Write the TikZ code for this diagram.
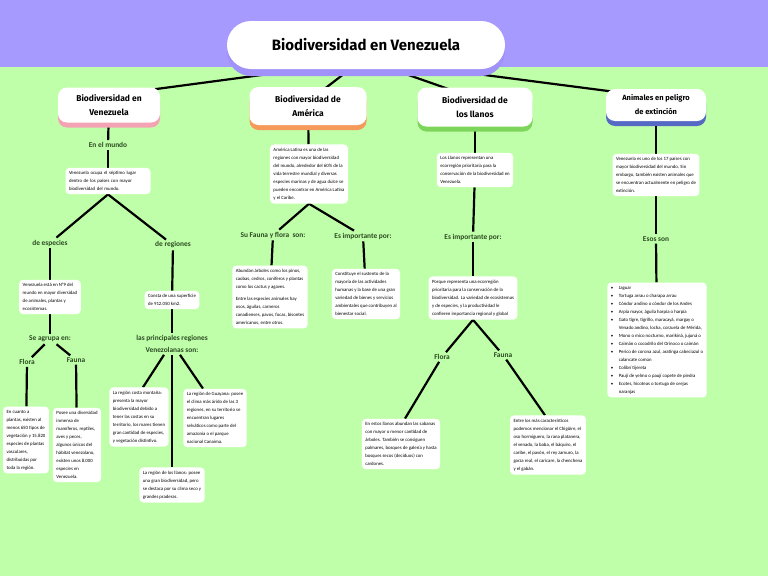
\documentclass[tikz,border=0pt]{standalone}
\usepackage{fontspec}
\setmainfont{Carlito}
\newfontfamily\headfont{Fira Sans}
\usetikzlibrary{shadows}

\definecolor{bgPurple}{HTML}{A69AFF}
\definecolor{bgGreen}{HTML}{BFFFA9}
\definecolor{titleShadow}{HTML}{A192FA}
\definecolor{pinkShadow}{HTML}{F4A3B4}
\definecolor{orangeShadow}{HTML}{F59A5A}
\definecolor{greenShadow}{HTML}{7DD65B}
\definecolor{blueShadow}{HTML}{5468C4}
\definecolor{tagGreen}{HTML}{2B4A22}

\pgfdeclarelayer{paper}
\pgfdeclarelayer{links}
\pgfsetlayers{paper,links,main}

\newcommand{\justline}[1]{\makebox[\hsize][s]{#1}}
\newcommand{\itm}{\makebox[8pt][l]{\textbullet}}
\newcommand{\cont}{\hspace*{8pt}}

\begin{document}
\begin{tikzpicture} [x=1pt,y=-1pt,
	titlebox/.style={shape=rectangle,rounded corners=24pt,fill=white,minimum width=278pt,minimum height=48pt,font=\headfont\bfseries\fontsize{15}{18}\selectfont,general shadow={fill=titleShadow,shadow yshift=-7pt}},
	topic/.style={shape=rectangle,rounded corners=9pt,fill=white,align=center,font=\headfont\bfseries\fontsize{8.5}{14}\selectfont,general shadow={fill=#1,shadow yshift=-5pt}},
	info/.style={shape=rectangle,rounded corners=4pt,fill=white,align=left,inner sep=3.5pt,font=\fontsize{4.8}{8}\selectfont},
	tag/.style={font=\bfseries\fontsize{7.4}{12}\selectfont,text=tagGreen,inner sep=2pt,align=center},
	link/.style={line width=2.2pt}]
	\useasboundingbox (0,0) rectangle (768,576);
	\begin{pgfonlayer}{paper}
		\fill[bgPurple] (0,0) rectangle (768,67);
		\fill[bgGreen] (0,67) rectangle (768,576);
	\end{pgfonlayer}

	% title and the four topics
	\node (title) at (366,45)[titlebox] {Biodiversidad en Venezuela};
	\node (hv) at (109,105)[topic=pinkShadow,minimum width=102pt,minimum height=35pt] {Biodiversidad en\\Venezuela};
	\node (ha) at (308,106)[topic=orangeShadow,minimum width=117pt,minimum height=38pt] {Biodiversidad de\\América};
	\node (hl) at (475,107)[topic=greenShadow,minimum width=115pt,minimum height=39pt] {Biodiversidad de\\los llanos};
	\node (he) at (656,105)[topic=blueShadow,minimum width=100pt,minimum height=32pt,font=\headfont\bfseries\fontsize{7.5}{14}\selectfont] {Animales en peligro\\de extinción};

	% Venezuela
	\node (mundo) at (108,145)[tag] {En el mundo};
	\node (b1) at (108,181)[info,text width=78pt] {\justline{Venezuela ocupa el séptimo lugar}\\\justline{dentro de los países con mayor}\\biodiversidad del mundo.};
	\node (esp) at (50,243)[tag] {de especies};
	\node (reg) at (173,245)[tag] {de regiones};
	\node (b2) at (50,297)[info] {Venezuela está en N°9 del\\mundo en mayor diversidad\\de animales, plantas y\\ecosistemas.};
	\node (agr) at (50,339)[tag] {Se agrupa en:};
	\node (flora1) at (27,362)[tag] {Flora};
	\node (fauna1) at (76,360)[tag] {Fauna};
	\node (b3) at (26,440)[info] {En cuanto a\\plantas, existen al\\menos 650 tipos de\\vegetación y 15.820\\especies de plantas\\vasculares,\\distribuidas por\\toda la región.};
	\node (b4) at (77,445)[info] {Posee una diversidad\\inmensa de\\mamíferos, reptiles,\\aves y peces,\\algunos únicos del\\hábitat venezolano,\\existen unos 8.000\\especies en\\Venezuela.};
	\node (b5) at (172,300)[info] {Consta de una superficie\\de 912.050 km2.};
	\node (prin) at (172,344)[tag] {las principales regiones\\Venezolanas son:};
	\node (b6) at (139,417)[info] {La región costa montaña:\\presenta la mayor\\biodiversidad debido a\\tener las costas en su\\territorio, los mares tienen\\gran cantidad de especies,\\y vegetación distintivo.};
	\node (b7) at (215,418)[info] {La región de Guayana: posee\\el clima más árido de las 3\\regiones, en su territorio se\\encuentran lugares\\selváticos como parte del\\amazonia o el parque\\nacional Canaima.};
	\node (b8) at (172,485)[info] {La región de los llanos: posee\\una gran biodiversidad, pero\\se destaca por su clima seco y\\grandes praderas.};

	% America
	\node (b9) at (309,174)[info] {América Latina es una de las\\regiones con mayor biodiversidad\\del mundo, alrededor del 60\% de la\\vida terrestre mundial y diversas\\especies marinas y de agua dulce se\\pueden encontrar en América Latina\\y el Caribe.};
	\node (fy) at (273,235)[tag] {Su Fauna y flora\ \ son:};
	\node (imp1) at (363,236)[tag] {Es importante por:};
	\node (b10) at (270,297)[info] {Abundan árboles como los pinos,\\caobas, cedros, coníferos y plantas\\como los cactus y agaves.\\[4pt]Entre las especies animales hay\\osos, águilas, carneros\\canadienses, pavos, focas, bisontes\\americanos, entre otros.};
	\node (b11) at (366,294)[info] {Constituye el sustento de la\\mayoría de las actividades\\humanas y la base de una gran\\variedad de bienes y servicios\\ambientales que contribuyen al\\bienestar social.};

	% llanos
	\node (b12) at (475,170)[info] {Los Llanos representan una\\ecorregión prioritaria para la\\conservación de la biodiversidad en\\Venezuela.};
	\node (imp2) at (473,237)[tag] {Es importante por:};
	\node (b13) at (473,298)[info] {Porque representa una ecorregión\\prioritaria para la conservación de la\\biodiversidad. La variedad de ecosistemas\\y de especies, y la productividad le\\confieren importancia regional y global};
	\node (flora2) at (442,357)[tag] {Flora};
	\node (fauna2) at (503,355)[tag] {Fauna};
	\node (b14) at (401,444)[info] {En estos llanos abundan las sabanas\\con mayor o menor cantidad de\\árboles. También se consiguen\\palmares, bosques de galería y hasta\\bosques secos (deciduos) con\\cardones.};
	\node (b15) at (548,445)[info] {Entre los más característicos\\podemos mencionar el Chigüire, el\\oso hormiguero, la rana platanera,\\el venado, la baba, el báquiro, el\\caribe, el pavón, el rey zamuro, la\\garza real, el caricare, la chenchena\\y el gabán.};

	% animales
	\node (b16) at (656,175)[info] {Venezuela es uno de los 17 países con\\mayor biodiversidad del mundo. Sin\\embargo, también existen animales que\\se encuentran actualmente en peligro de\\extinción.};
	\node (esos) at (656,239)[tag] {Esos son};
	\node (b17) at (657,340)[info] {\itm Jaguar\\\itm Tortuga arrau o charapa arrau\\\itm Cóndor andino o cóndor de los Andes\\\itm Arpía mayor, águila harpía o harpía\\\itm Gato tigre, tigrillo, maracayá, margay o\\\cont Venado andino, locha, corzuela de Mérida,\\\itm Mono o mico nocturno, marikiná, jujuná o\\\itm Caimán o cocodrilo del Orinoco o caimán\\\itm Perico de corona azul, aratinga cabeciazul o\\\cont calancate común\\\itm Colibrí tijereta\\\itm Paují de yelmo o paují copete de piedra\\\itm Ecotes, hicoteas o tortuga de orejas\\\cont naranjas};

	\begin{pgfonlayer}{links}
		\draw[link] ([xshift=-61pt]title.south) -- ([xshift=30pt,yshift=-4pt]hv.north);
		\draw[link] ([xshift=-16pt]title.south) -- ([xshift=14pt,yshift=-4pt]ha.north);
		\draw[link] ([xshift=26pt]title.south) -- ([xshift=-20pt,yshift=-4pt]hl.north);
		\draw[link] ([xshift=74pt]title.south) -- ([xshift=-34pt,yshift=-4pt]he.north);

		\draw[link] (hv) -- (mundo);
		\draw[link] (mundo) -- (b1);
		\draw[link] (b1.south) -- (esp);
		\draw[link] (b1.south) -- (reg);
		\draw[link] (esp) -- (b2);
		\draw[link] (b2) -- (agr);
		\draw[link] (agr) -- (flora1);
		\draw[link] (agr) -- (fauna1);
		\draw[link] (flora1) -- (b3);
		\draw[link] (fauna1) -- (b4);
		\draw[link] (reg) -- (b5);
		\draw[link] (b5) -- (prin);
		\draw[link] ([xshift=-8pt]prin.south) -- ([xshift=4pt]b6.north);
		\draw[link] (prin.south) -- (b8.north);
		\draw[link] ([xshift=8pt]prin.south) -- ([xshift=-12pt]b7.north);

		\draw[link] (ha) -- (b9);
		\draw[link] (b9.south) -- (fy);
		\draw[link] (b9.south) -- (imp1);
		\draw[link] (fy) -- (b10);
		\draw[link] (imp1) -- (b11);

		\draw[link] (hl) -- (b12);
		\draw[link] (b12) -- (imp2);
		\draw[link] (imp2) -- (b13);
		\draw[link] (b13.south) -- (flora2);
		\draw[link] (b13.south) -- (fauna2);
		\draw[link] (flora2) -- ([xshift=4pt]b14.north);
		\draw[link] (fauna2) -- ([xshift=-3pt]b15.north);

		\draw[link] (he) -- (b16);
		\draw[link] (b16) -- (esos);
		\draw[link] (esos) -- (b17);
	\end{pgfonlayer}
\end{tikzpicture}
\end{document}
